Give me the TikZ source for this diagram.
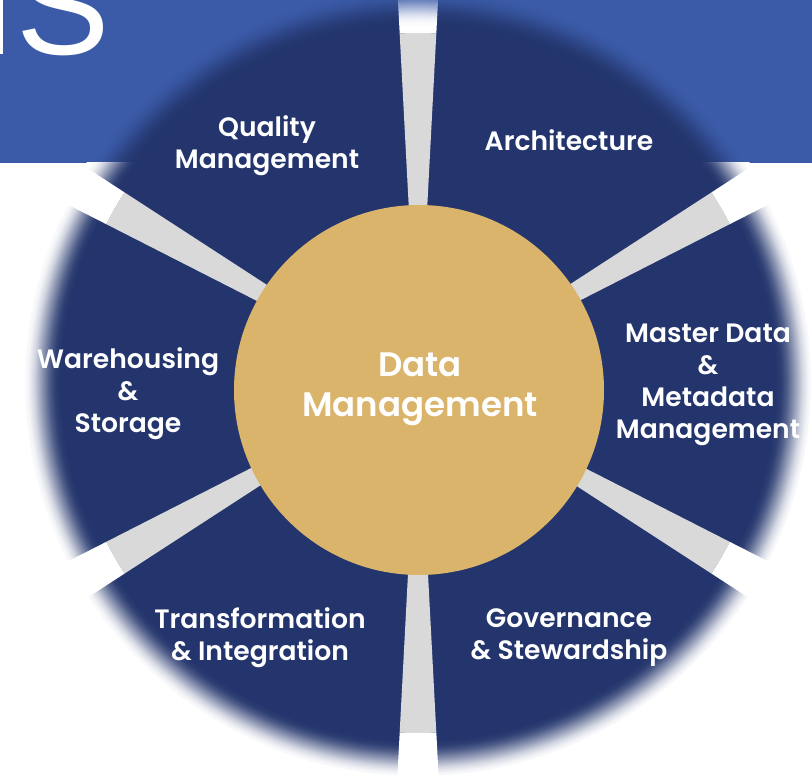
\documentclass[tikz,border=0pt]{standalone}
\usepackage{fontspec}
\usetikzlibrary{fadings}
\setmainfont{Poppins}[BoldFont={Poppins SemiBold}]
\newfontfamily\headingfont{Liberation Sans}
\definecolor{navy}{RGB}{35,53,108}
\definecolor{bandblue}{RGB}{59,91,168}
\definecolor{spokegray}{RGB}{217,217,217}
\definecolor{gold}{RGB}{218,180,106}
% soft rim: transparent inside, a gentle ramp, opaque near the outside
\pgfdeclareradialshading{rimshade}{\pgfpointorigin}{%
  color(0bp)=(pgftransparent!100); color(22.36bp)=(pgftransparent!100);
  color(22.72bp)=(pgftransparent!95); color(23.08bp)=(pgftransparent!80);
  color(23.56bp)=(pgftransparent!50); color(24.03bp)=(pgftransparent!20);
  color(24.39bp)=(pgftransparent!5); color(24.75bp)=(pgftransparent!0);
  color(50bp)=(pgftransparent!0)}
\pgfdeclarefading{rimfade}{\pgfuseshading{rimshade}}
\begin{document}
\begin{tikzpicture}[x=1pt,y=-1pt,
  seglabel/.style={text=white, align=center, inner sep=0pt,
    font=\bfseries\fontsize{26.6}{32}\selectfont},
  corelabel/.style={text=white, align=center, inner sep=0pt,
    font=\bfseries\fontsize{34}{40}\selectfont},
  rim/.style={path fading=rimfade, fit fading=true, even odd rule}]
\useasboundingbox (0,0) rectangle (812,775);
\fill[white] (0,0) rectangle (812,775);

% blue title band with the end of its heading
\fill[bandblue] (0,0) rectangle (812,163);
\node[anchor=base east, text=white, inner sep=0pt,
  font=\headingfont\fontsize{140}{140}\selectfont] (heading) at (110,55) {IS};

% the wheel: navy disc cut by six spokes
\coordinate (hub) at (418,383);
\begin{scope}[shift={(hub)}]
  \fill[navy] (0,0) circle[radius=393];
  \foreach \a in {30,90,150,210,270,330} {
    \fill[spokegray] (0,0) -- (\a-3:350)
      arc[start angle=\a-3, end angle=\a+3, radius=350] -- cycle;
    \fill[white] (\a-3:350) -- (\a-3:396)
      arc[start angle=\a-3, end angle=\a+3, radius=396] -- (\a+3:350)
      arc[start angle=\a+3, end angle=\a-3, radius=350] -- cycle;
  }
  % the rim dissolves into the band above and into white below
  \begin{scope}
    \clip (-500,-500) rectangle (500,-220);
    \fill[bandblue, rim] (0,0) circle[radius=398] (0,0) circle[radius=354];
  \end{scope}
  \begin{scope}
    \clip (-500,-220) rectangle (500,500);
    \fill[white, rim] (0,0) circle[radius=398] (0,0) circle[radius=354];
  \end{scope}
\end{scope}

% golden core
\node[circle, fill=gold, minimum size=370pt, inner sep=0pt] (core) at (419,390) {};
\node[corelabel] (coretext) at (420,389) {Data\\Management};

% segment labels
\node[seglabel] (quality) at (267,146) {Quality\\Management};
\node[seglabel] (architecture) at (569,140) {Architecture};
\node[seglabel] (master) at (708,385) {Master Data\\\&\\Metadata\\Management};
\node[seglabel] (governance) at (569,638) {Governance\\\& Stewardship};
\node[seglabel] (transformation) at (260,638) {Transformation\\\& Integration};
\node[seglabel] (warehousing) at (128,394) {Warehousing\\\&\\Storage};
\end{tikzpicture}
\end{document}
